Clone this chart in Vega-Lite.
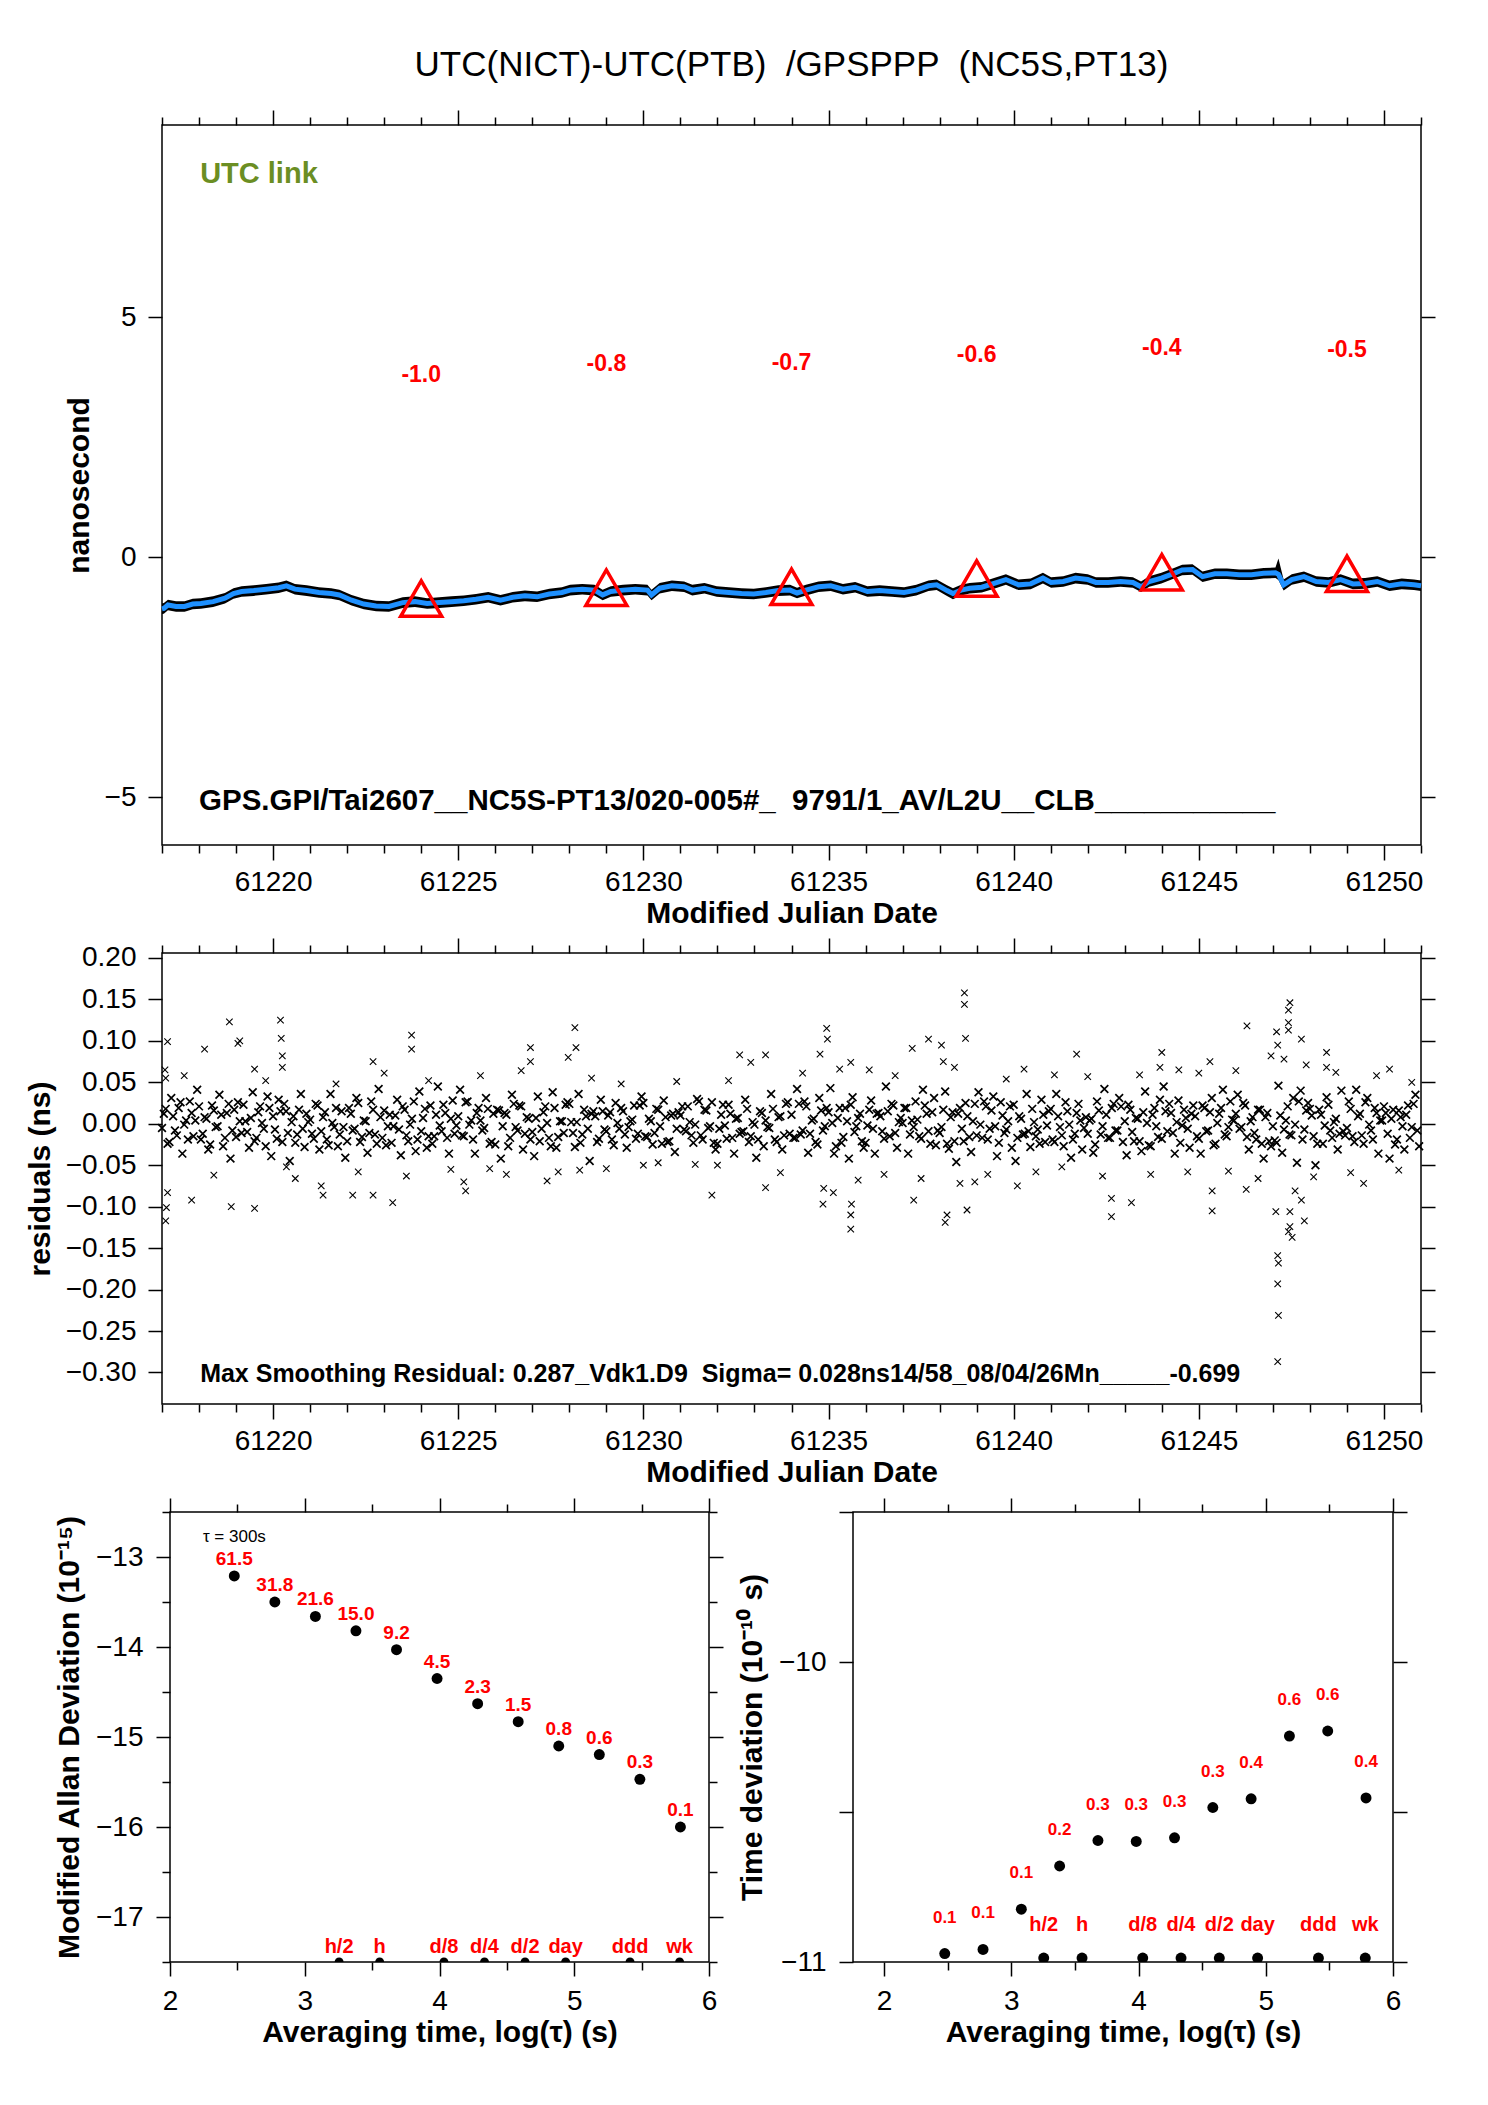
{
  "$schema": "https://vega.github.io/schema/vega-lite/v6.json",
  "autosize": {"type": "none"},
  "padding": {"left": 162, "top": 125, "right": 1326, "bottom": 1980},
  "background": "white",
  "bounds": "flush",
  "spacing": 108,
  "config": {
    "font": "Liberation Sans",
    "view": {"stroke": "black", "strokeWidth": 1.5},
    "axis": {
      "labelFont": "Liberation Sans", "labelFontSize": 28, "labelColor": "black",
      "titleFont": "Liberation Sans", "titleFontSize": 30, "titleFontWeight": "bold", "titleColor": "black",
      "domain": false, "grid": false, "tickColor": "black", "tickWidth": 1.5, "tickSize": 14,
      "labelFlush": false, "labelOverlap": false, "labelPadding": 11
    }
  },
  "datasets": {
    "ts": [
      {"t":61217.00,"y":-1.08,"lo":-1.19,"hi":-0.97},{"t":61217.05,"y":-1.07,"lo":-1.18,"hi":-0.96},{"t":61217.16,"y":-1.00,"lo":-1.11,"hi":-0.89},{"t":61217.38,"y":-1.03,"lo":-1.14,"hi":-0.92},
      {"t":61217.61,"y":-1.03,"lo":-1.14,"hi":-0.92},{"t":61217.83,"y":-0.98,"lo":-1.09,"hi":-0.87},{"t":61218.05,"y":-0.97,"lo":-1.08,"hi":-0.86},{"t":61218.38,"y":-0.93,"lo":-1.04,"hi":-0.82},
      {"t":61218.70,"y":-0.86,"lo":-0.97,"hi":-0.75},{"t":61218.93,"y":-0.76,"lo":-0.87,"hi":-0.65},{"t":61219.15,"y":-0.72,"lo":-0.83,"hi":-0.61},{"t":61219.48,"y":-0.70,"lo":-0.81,"hi":-0.59},
      {"t":61219.81,"y":-0.67,"lo":-0.78,"hi":-0.56},{"t":61220.15,"y":-0.64,"lo":-0.75,"hi":-0.53},{"t":61220.36,"y":-0.60,"lo":-0.71,"hi":-0.49},{"t":61220.59,"y":-0.67,"lo":-0.78,"hi":-0.56},
      {"t":61220.91,"y":-0.70,"lo":-0.81,"hi":-0.59},{"t":61221.24,"y":-0.74,"lo":-0.85,"hi":-0.63},{"t":61221.57,"y":-0.76,"lo":-0.87,"hi":-0.65},{"t":61221.79,"y":-0.79,"lo":-0.90,"hi":-0.68},
      {"t":61222.12,"y":-0.90,"lo":-1.01,"hi":-0.79},{"t":61222.45,"y":-0.98,"lo":-1.09,"hi":-0.87},{"t":61222.78,"y":-1.02,"lo":-1.13,"hi":-0.91},{"t":61223.13,"y":-1.03,"lo":-1.14,"hi":-0.92},
      {"t":61223.50,"y":-0.95,"lo":-1.06,"hi":-0.84},{"t":61223.83,"y":-0.93,"lo":-1.04,"hi":-0.82},{"t":61224.16,"y":-0.97,"lo":-1.08,"hi":-0.86},{"t":61224.49,"y":-0.95,"lo":-1.06,"hi":-0.84},
      {"t":61224.82,"y":-0.93,"lo":-1.04,"hi":-0.82},{"t":61225.15,"y":-0.91,"lo":-1.02,"hi":-0.80},{"t":61225.48,"y":-0.88,"lo":-0.99,"hi":-0.77},{"t":61225.81,"y":-0.84,"lo":-0.95,"hi":-0.73},
      {"t":61226.14,"y":-0.90,"lo":-1.01,"hi":-0.79},{"t":61226.47,"y":-0.84,"lo":-0.95,"hi":-0.73},{"t":61226.80,"y":-0.81,"lo":-0.92,"hi":-0.70},{"t":61227.13,"y":-0.83,"lo":-0.94,"hi":-0.72},
      {"t":61227.46,"y":-0.77,"lo":-0.88,"hi":-0.66},{"t":61227.80,"y":-0.74,"lo":-0.85,"hi":-0.63},{"t":61228.02,"y":-0.69,"lo":-0.80,"hi":-0.58},{"t":61228.35,"y":-0.67,"lo":-0.78,"hi":-0.56},
      {"t":61228.68,"y":-0.69,"lo":-0.80,"hi":-0.58},{"t":61228.90,"y":-0.79,"lo":-0.90,"hi":-0.68},{"t":61229.12,"y":-0.72,"lo":-0.83,"hi":-0.61},{"t":61229.45,"y":-0.69,"lo":-0.80,"hi":-0.58},
      {"t":61229.78,"y":-0.67,"lo":-0.78,"hi":-0.56},{"t":61230.11,"y":-0.69,"lo":-0.80,"hi":-0.58},{"t":61230.22,"y":-0.79,"lo":-0.90,"hi":-0.68},{"t":61230.44,"y":-0.65,"lo":-0.76,"hi":-0.54},
      {"t":61230.77,"y":-0.60,"lo":-0.71,"hi":-0.49},{"t":61231.10,"y":-0.62,"lo":-0.73,"hi":-0.51},{"t":61231.32,"y":-0.69,"lo":-0.80,"hi":-0.58},{"t":61231.65,"y":-0.65,"lo":-0.76,"hi":-0.54},
      {"t":61231.98,"y":-0.72,"lo":-0.83,"hi":-0.61},{"t":61232.31,"y":-0.74,"lo":-0.85,"hi":-0.63},{"t":61232.65,"y":-0.76,"lo":-0.87,"hi":-0.65},{"t":61232.98,"y":-0.77,"lo":-0.88,"hi":-0.66},
      {"t":61233.31,"y":-0.74,"lo":-0.85,"hi":-0.63},{"t":61233.64,"y":-0.70,"lo":-0.81,"hi":-0.59},{"t":61233.96,"y":-0.69,"lo":-0.80,"hi":-0.58},{"t":61234.15,"y":-0.75,"lo":-0.86,"hi":-0.64},
      {"t":61234.39,"y":-0.69,"lo":-0.80,"hi":-0.58},{"t":61234.73,"y":-0.62,"lo":-0.73,"hi":-0.51},{"t":61235.06,"y":-0.60,"lo":-0.71,"hi":-0.49},{"t":61235.39,"y":-0.67,"lo":-0.78,"hi":-0.56},
      {"t":61235.72,"y":-0.63,"lo":-0.74,"hi":-0.52},{"t":61236.05,"y":-0.72,"lo":-0.83,"hi":-0.61},{"t":61236.38,"y":-0.70,"lo":-0.81,"hi":-0.59},{"t":61236.71,"y":-0.72,"lo":-0.83,"hi":-0.61},
      {"t":61237.04,"y":-0.74,"lo":-0.85,"hi":-0.63},{"t":61237.37,"y":-0.69,"lo":-0.80,"hi":-0.58},{"t":61237.70,"y":-0.60,"lo":-0.71,"hi":-0.49},{"t":61237.92,"y":-0.58,"lo":-0.69,"hi":-0.47},
      {"t":61238.20,"y":-0.70,"lo":-0.81,"hi":-0.59},{"t":61238.36,"y":-0.76,"lo":-0.88,"hi":-0.65},{"t":61238.58,"y":-0.69,"lo":-0.80,"hi":-0.58},{"t":61238.81,"y":-0.65,"lo":-0.76,"hi":-0.54},
      {"t":61239.14,"y":-0.63,"lo":-0.74,"hi":-0.52},{"t":61239.47,"y":-0.55,"lo":-0.66,"hi":-0.44},{"t":61239.79,"y":-0.47,"lo":-0.58,"hi":-0.36},{"t":61240.13,"y":-0.58,"lo":-0.69,"hi":-0.47},
      {"t":61240.46,"y":-0.56,"lo":-0.67,"hi":-0.45},{"t":61240.79,"y":-0.44,"lo":-0.55,"hi":-0.33},{"t":61241.01,"y":-0.53,"lo":-0.64,"hi":-0.42},{"t":61241.34,"y":-0.51,"lo":-0.62,"hi":-0.40},
      {"t":61241.67,"y":-0.44,"lo":-0.55,"hi":-0.33},{"t":61242.00,"y":-0.47,"lo":-0.58,"hi":-0.36},{"t":61242.22,"y":-0.53,"lo":-0.64,"hi":-0.42},{"t":61242.55,"y":-0.53,"lo":-0.64,"hi":-0.42},
      {"t":61242.89,"y":-0.51,"lo":-0.62,"hi":-0.40},{"t":61243.22,"y":-0.53,"lo":-0.64,"hi":-0.42},{"t":61243.44,"y":-0.62,"lo":-0.73,"hi":-0.51},{"t":61243.66,"y":-0.51,"lo":-0.62,"hi":-0.40},
      {"t":61243.99,"y":-0.44,"lo":-0.55,"hi":-0.33},{"t":61244.33,"y":-0.34,"lo":-0.45,"hi":-0.23},{"t":61244.55,"y":-0.27,"lo":-0.38,"hi":-0.16},{"t":61244.83,"y":-0.26,"lo":-0.37,"hi":-0.15},
      {"t":61245.10,"y":-0.41,"lo":-0.52,"hi":-0.30},{"t":61245.43,"y":-0.35,"lo":-0.46,"hi":-0.24},{"t":61245.76,"y":-0.35,"lo":-0.46,"hi":-0.24},{"t":61246.09,"y":-0.37,"lo":-0.48,"hi":-0.26},
      {"t":61246.42,"y":-0.37,"lo":-0.48,"hi":-0.26},{"t":61246.75,"y":-0.34,"lo":-0.45,"hi":-0.23},{"t":61247.07,"y":-0.33,"lo":-0.44,"hi":-0.22},{"t":61247.15,"y":-0.36,"lo":-0.48,"hi":-0.03},
      {"t":61247.29,"y":-0.58,"lo":-0.70,"hi":-0.47},{"t":61247.51,"y":-0.47,"lo":-0.58,"hi":-0.36},{"t":61247.84,"y":-0.41,"lo":-0.52,"hi":-0.30},{"t":61248.17,"y":-0.51,"lo":-0.62,"hi":-0.40},
      {"t":61248.50,"y":-0.53,"lo":-0.64,"hi":-0.42},{"t":61248.83,"y":-0.47,"lo":-0.58,"hi":-0.36},{"t":61249.16,"y":-0.56,"lo":-0.67,"hi":-0.45},{"t":61249.49,"y":-0.55,"lo":-0.66,"hi":-0.44},
      {"t":61249.82,"y":-0.51,"lo":-0.62,"hi":-0.40},{"t":61250.15,"y":-0.60,"lo":-0.71,"hi":-0.49},{"t":61250.48,"y":-0.56,"lo":-0.67,"hi":-0.45},{"t":61250.81,"y":-0.58,"lo":-0.69,"hi":-0.47},
      {"t":61251.00,"y":-0.60,"lo":-0.71,"hi":-0.49}
    ],
    "tri": [
      {"t": 61224, "y": -0.865, "l": "-1.0"},
      {"t": 61229, "y": -0.64, "l": "-0.8"},
      {"t": 61234, "y": -0.62, "l": "-0.7"},
      {"t": 61239, "y": -0.45, "l": "-0.6"},
      {"t": 61244, "y": -0.32, "l": "-0.4"},
      {"t": 61249, "y": -0.35, "l": "-0.5"}
    ],
    "core": [
      {"t":61217.05,"r":0.012},{"t":61217.15,"r":-0.024},{"t":61217.25,"r":0.031},{"t":61217.35,"r":-0.008},{"t":61217.45,"r":0.019},{"t":61217.55,"r":-0.036},{"t":61217.65,"r":0.004},{"t":61217.75,"r":0.027},{"t":61217.85,"r":-0.015},{"t":61217.95,"r":0.041},
      {"t":61218.05,"r":-0.019},{"t":61218.15,"r":0.008},{"t":61218.25,"r":-0.031},{"t":61218.35,"r":0.022},{"t":61218.45,"r":-0.004},{"t":61218.55,"r":0.035},{"t":61218.65,"r":-0.027},{"t":61218.75,"r":0.013},{"t":61218.85,"r":-0.042},{"t":61218.95,"r":0.017},
      {"t":61219.05,"r":0.026},{"t":61219.15,"r":-0.011},{"t":61219.25,"r":0.003},{"t":61219.35,"r":-0.029},{"t":61219.45,"r":0.038},{"t":61219.55,"r":-0.017},{"t":61219.65,"r":0.021},{"t":61219.75,"r":-0.006},{"t":61219.85,"r":0.033},{"t":61219.95,"r":-0.039},
      {"t":61220.05,"r":-0.007},{"t":61220.15,"r":0.029},{"t":61220.25,"r":-0.022},{"t":61220.35,"r":0.015},{"t":61220.45,"r":-0.045},{"t":61220.55,"r":0.009},{"t":61220.65,"r":-0.013},{"t":61220.75,"r":0.036},{"t":61220.85,"r":-0.028},{"t":61220.95,"r":0.002},
      {"t":61221.05,"r":-0.012},{"t":61221.15,"r":0.024},{"t":61221.25,"r":-0.031},{"t":61221.35,"r":0.008},{"t":61221.45,"r":-0.019},{"t":61221.55,"r":0.036},{"t":61221.65,"r":-0.004},{"t":61221.75,"r":-0.027},{"t":61221.85,"r":0.015},{"t":61221.95,"r":-0.041},
      {"t":61222.05,"r":0.019},{"t":61222.15,"r":-0.008},{"t":61222.25,"r":0.031},{"t":61222.35,"r":-0.022},{"t":61222.45,"r":0.004},{"t":61222.55,"r":-0.035},{"t":61222.65,"r":0.027},{"t":61222.75,"r":-0.013},{"t":61222.85,"r":0.042},{"t":61222.95,"r":-0.017},
      {"t":61223.05,"r":-0.026},{"t":61223.15,"r":0.011},{"t":61223.25,"r":-0.003},{"t":61223.35,"r":0.029},{"t":61223.45,"r":-0.038},{"t":61223.55,"r":0.017},{"t":61223.65,"r":-0.021},{"t":61223.75,"r":0.006},{"t":61223.85,"r":-0.033},{"t":61223.95,"r":0.039},
      {"t":61224.05,"r":0.007},{"t":61224.15,"r":-0.029},{"t":61224.25,"r":0.022},{"t":61224.35,"r":-0.015},{"t":61224.45,"r":0.045},{"t":61224.55,"r":-0.009},{"t":61224.65,"r":0.013},{"t":61224.75,"r":-0.036},{"t":61224.85,"r":0.028},{"t":61224.95,"r":-0.002},
      {"t":61225.05,"r":0.041},{"t":61225.15,"r":-0.015},{"t":61225.25,"r":0.027},{"t":61225.35,"r":0.004},{"t":61225.45,"r":-0.036},{"t":61225.55,"r":0.019},{"t":61225.65,"r":-0.008},{"t":61225.75,"r":0.031},{"t":61225.85,"r":-0.024},{"t":61225.95,"r":0.012},
      {"t":61226.05,"r":0.017},{"t":61226.15,"r":-0.042},{"t":61226.25,"r":0.013},{"t":61226.35,"r":-0.027},{"t":61226.45,"r":0.035},{"t":61226.55,"r":-0.004},{"t":61226.65,"r":0.022},{"t":61226.75,"r":-0.031},{"t":61226.85,"r":0.008},{"t":61226.95,"r":-0.019},
      {"t":61227.05,"r":-0.039},{"t":61227.15,"r":0.033},{"t":61227.25,"r":-0.006},{"t":61227.35,"r":0.021},{"t":61227.45,"r":-0.017},{"t":61227.55,"r":0.038},{"t":61227.65,"r":-0.029},{"t":61227.75,"r":0.003},{"t":61227.85,"r":-0.011},{"t":61227.95,"r":0.026},
      {"t":61228.05,"r":0.002},{"t":61228.15,"r":-0.028},{"t":61228.25,"r":0.036},{"t":61228.35,"r":-0.013},{"t":61228.45,"r":0.009},{"t":61228.55,"r":-0.045},{"t":61228.65,"r":0.015},{"t":61228.75,"r":-0.022},{"t":61228.85,"r":0.029},{"t":61228.95,"r":-0.007},
      {"t":61229.05,"r":0.010},{"t":61229.15,"r":-0.019},{"t":61229.25,"r":0.025},{"t":61229.35,"r":-0.006},{"t":61229.45,"r":0.015},{"t":61229.55,"r":-0.029},{"t":61229.65,"r":0.003},{"t":61229.75,"r":0.022},{"t":61229.85,"r":-0.012},{"t":61229.95,"r":0.033},
      {"t":61230.05,"r":-0.015},{"t":61230.15,"r":0.006},{"t":61230.25,"r":-0.025},{"t":61230.35,"r":0.018},{"t":61230.45,"r":-0.003},{"t":61230.55,"r":0.028},{"t":61230.65,"r":-0.022},{"t":61230.75,"r":0.010},{"t":61230.85,"r":-0.034},{"t":61230.95,"r":0.014},
      {"t":61231.05,"r":0.021},{"t":61231.15,"r":-0.009},{"t":61231.25,"r":0.002},{"t":61231.35,"r":-0.023},{"t":61231.45,"r":0.030},{"t":61231.55,"r":-0.014},{"t":61231.65,"r":0.017},{"t":61231.75,"r":-0.005},{"t":61231.85,"r":0.026},{"t":61231.95,"r":-0.031},
      {"t":61232.05,"r":-0.006},{"t":61232.15,"r":0.023},{"t":61232.25,"r":-0.018},{"t":61232.35,"r":0.012},{"t":61232.45,"r":-0.036},{"t":61232.55,"r":0.007},{"t":61232.65,"r":-0.010},{"t":61232.75,"r":0.029},{"t":61232.85,"r":-0.022},{"t":61232.95,"r":0.002},
      {"t":61233.05,"r":-0.041},{"t":61233.15,"r":0.015},{"t":61233.25,"r":-0.027},{"t":61233.35,"r":-0.004},{"t":61233.45,"r":0.036},{"t":61233.55,"r":-0.019},{"t":61233.65,"r":0.008},{"t":61233.75,"r":-0.031},{"t":61233.85,"r":0.024},{"t":61233.95,"r":-0.012},
      {"t":61234.05,"r":-0.017},{"t":61234.15,"r":0.042},{"t":61234.25,"r":-0.013},{"t":61234.35,"r":0.027},{"t":61234.45,"r":-0.035},{"t":61234.55,"r":0.004},{"t":61234.65,"r":-0.022},{"t":61234.75,"r":0.031},{"t":61234.85,"r":-0.008},{"t":61234.95,"r":0.019},
      {"t":61235.05,"r":0.043},{"t":61235.15,"r":-0.036},{"t":61235.25,"r":0.007},{"t":61235.35,"r":-0.023},{"t":61235.45,"r":0.019},{"t":61235.55,"r":-0.042},{"t":61235.65,"r":0.032},{"t":61235.75,"r":-0.003},{"t":61235.85,"r":0.012},{"t":61235.95,"r":-0.029},
      {"t":61236.05,"r":-0.002},{"t":61236.15,"r":0.028},{"t":61236.25,"r":-0.036},{"t":61236.35,"r":0.013},{"t":61236.45,"r":-0.009},{"t":61236.55,"r":0.045},{"t":61236.65,"r":-0.015},{"t":61236.75,"r":0.022},{"t":61236.85,"r":-0.029},{"t":61236.95,"r":0.007},
      {"t":61237.05,"r":0.019},{"t":61237.15,"r":-0.036},{"t":61237.25,"r":0.004},{"t":61237.35,"r":0.027},{"t":61237.45,"r":-0.015},{"t":61237.55,"r":0.041},{"t":61237.65,"r":0.012},{"t":61237.75,"r":-0.024},{"t":61237.85,"r":0.031},{"t":61237.95,"r":-0.008},
      {"t":61238.05,"r":-0.004},{"t":61238.15,"r":0.039},{"t":61238.25,"r":-0.030},{"t":61238.35,"r":0.014},{"t":61238.45,"r":-0.046},{"t":61238.55,"r":0.019},{"t":61238.65,"r":-0.021},{"t":61238.75,"r":0.009},{"t":61238.85,"r":-0.034},{"t":61238.95,"r":0.024},
      {"t":61239.05,"r":0.038},{"t":61239.15,"r":-0.017},{"t":61239.25,"r":0.021},{"t":61239.35,"r":-0.006},{"t":61239.45,"r":0.033},{"t":61239.55,"r":-0.039},{"t":61239.65,"r":0.026},{"t":61239.75,"r":-0.011},{"t":61239.85,"r":0.003},{"t":61239.95,"r":-0.029},
      {"t":61240.05,"r":-0.045},{"t":61240.15,"r":0.009},{"t":61240.25,"r":-0.013},{"t":61240.35,"r":0.036},{"t":61240.45,"r":-0.028},{"t":61240.55,"r":0.002},{"t":61240.65,"r":-0.007},{"t":61240.75,"r":0.029},{"t":61240.85,"r":-0.022},{"t":61240.95,"r":0.015},
      {"t":61241.05,"r":-0.019},{"t":61241.15,"r":0.036},{"t":61241.25,"r":-0.004},{"t":61241.35,"r":-0.027},{"t":61241.45,"r":0.015},{"t":61241.55,"r":-0.041},{"t":61241.65,"r":-0.012},{"t":61241.75,"r":0.024},{"t":61241.85,"r":-0.031},{"t":61241.95,"r":0.008},
      {"t":61242.05,"r":0.004},{"t":61242.15,"r":-0.035},{"t":61242.25,"r":0.027},{"t":61242.35,"r":-0.013},{"t":61242.45,"r":0.042},{"t":61242.55,"r":-0.017},{"t":61242.65,"r":0.019},{"t":61242.75,"r":-0.008},{"t":61242.85,"r":0.031},{"t":61242.95,"r":-0.022},
      {"t":61243.05,"r":-0.038},{"t":61243.15,"r":0.017},{"t":61243.25,"r":-0.021},{"t":61243.35,"r":0.006},{"t":61243.45,"r":-0.033},{"t":61243.55,"r":0.039},{"t":61243.65,"r":-0.026},{"t":61243.75,"r":0.011},{"t":61243.85,"r":-0.003},{"t":61243.95,"r":0.029},
      {"t":61244.05,"r":0.045},{"t":61244.15,"r":-0.009},{"t":61244.25,"r":0.013},{"t":61244.35,"r":-0.036},{"t":61244.45,"r":0.028},{"t":61244.55,"r":-0.002},{"t":61244.65,"r":0.007},{"t":61244.75,"r":-0.029},{"t":61244.85,"r":0.022},{"t":61244.95,"r":-0.015},
      {"t":61245.05,"r":-0.036},{"t":61245.15,"r":0.019},{"t":61245.25,"r":-0.008},{"t":61245.35,"r":0.031},{"t":61245.45,"r":-0.024},{"t":61245.55,"r":0.012},{"t":61245.65,"r":0.041},{"t":61245.75,"r":-0.015},{"t":61245.85,"r":0.027},{"t":61245.95,"r":0.004},
      {"t":61246.05,"r":0.035},{"t":61246.15,"r":-0.004},{"t":61246.25,"r":0.022},{"t":61246.35,"r":-0.031},{"t":61246.45,"r":0.008},{"t":61246.55,"r":-0.019},{"t":61246.65,"r":0.017},{"t":61246.75,"r":-0.042},{"t":61246.85,"r":0.013},{"t":61246.95,"r":-0.027},
      {"t":61247.05,"r":-0.020},{"t":61247.15,"r":0.046},{"t":61247.25,"r":-0.035},{"t":61247.35,"r":0.004},{"t":61247.45,"r":-0.013},{"t":61247.55,"r":0.031},{"t":61247.65,"r":-0.047},{"t":61247.75,"r":0.040},{"t":61247.85,"r":-0.007},{"t":61247.95,"r":0.025},
      {"t":61248.05,"r":0.010},{"t":61248.15,"r":-0.050},{"t":61248.25,"r":0.017},{"t":61248.35,"r":-0.024},{"t":61248.45,"r":0.032},{"t":61248.55,"r":-0.008},{"t":61248.65,"r":0.002},{"t":61248.75,"r":-0.031},{"t":61248.85,"r":0.040},{"t":61248.95,"r":-0.014},
      {"t":61249.05,"r":0.027},{"t":61249.15,"r":-0.015},{"t":61249.25,"r":0.041},{"t":61249.35,"r":0.012},{"t":61249.45,"r":-0.024},{"t":61249.55,"r":0.031},{"t":61249.65,"r":-0.008},{"t":61249.75,"r":0.019},{"t":61249.85,"r":-0.036},{"t":61249.95,"r":0.004},
      {"t":61250.05,"r":0.013},{"t":61250.15,"r":-0.042},{"t":61250.25,"r":0.017},{"t":61250.35,"r":-0.019},{"t":61250.45,"r":0.008},{"t":61250.55,"r":-0.031},{"t":61250.65,"r":0.022},{"t":61250.75,"r":-0.004},{"t":61250.85,"r":0.035},{"t":61250.95,"r":-0.027},
      {"t":61217.00,"r":-0.005},{"t":61217.10,"r":0.018},{"t":61217.20,"r":-0.022},{"t":61217.30,"r":0.009},{"t":61217.40,"r":-0.014},{"t":61217.50,"r":0.026},{"t":61217.60,"r":-0.001},{"t":61217.70,"r":-0.019},{"t":61217.80,"r":0.013},{"t":61217.90,"r":0.004},
      {"t":61218.00,"r":0.021},{"t":61218.10,"r":-0.012},{"t":61218.20,"r":0.006},{"t":61218.30,"r":-0.025},{"t":61218.40,"r":0.016},{"t":61218.50,"r":-0.003},{"t":61218.60,"r":0.011},{"t":61218.70,"r":-0.017},{"t":61218.80,"r":0.024},{"t":61218.90,"r":-0.008},
      {"t":61219.00,"r":-0.016},{"t":61219.10,"r":0.003},{"t":61219.20,"r":0.023},{"t":61219.30,"r":-0.010},{"t":61219.40,"r":0.007},{"t":61219.50,"r":-0.021},{"t":61219.60,"r":0.014},{"t":61219.70,"r":0.001},{"t":61219.80,"r":-0.027},{"t":61219.90,"r":0.019},
      {"t":61220.00,"r":0.009},{"t":61220.10,"r":-0.018},{"t":61220.20,"r":0.015},{"t":61220.30,"r":0.024},{"t":61220.40,"r":-0.011},{"t":61220.50,"r":0.002},{"t":61220.60,"r":-0.023},{"t":61220.70,"r":0.017},{"t":61220.80,"r":-0.006},{"t":61220.90,"r":0.012},
      {"t":61221.00,"r":0.005},{"t":61221.10,"r":-0.018},{"t":61221.20,"r":0.022},{"t":61221.30,"r":-0.009},{"t":61221.40,"r":0.014},{"t":61221.50,"r":-0.026},{"t":61221.60,"r":0.001},{"t":61221.70,"r":0.019},{"t":61221.80,"r":-0.013},{"t":61221.90,"r":-0.004},
      {"t":61222.00,"r":-0.021},{"t":61222.10,"r":0.012},{"t":61222.20,"r":-0.006},{"t":61222.30,"r":0.025},{"t":61222.40,"r":-0.016},{"t":61222.50,"r":0.003},{"t":61222.60,"r":-0.011},{"t":61222.70,"r":0.017},{"t":61222.80,"r":-0.024},{"t":61222.90,"r":0.008},
      {"t":61223.00,"r":0.016},{"t":61223.10,"r":-0.003},{"t":61223.20,"r":-0.023},{"t":61223.30,"r":0.010},{"t":61223.40,"r":-0.007},{"t":61223.50,"r":0.021},{"t":61223.60,"r":-0.014},{"t":61223.70,"r":-0.001},{"t":61223.80,"r":0.027},{"t":61223.90,"r":-0.019},
      {"t":61224.00,"r":-0.009},{"t":61224.10,"r":0.018},{"t":61224.20,"r":-0.015},{"t":61224.30,"r":-0.024},{"t":61224.40,"r":0.011},{"t":61224.50,"r":-0.002},{"t":61224.60,"r":0.023},{"t":61224.70,"r":-0.017},{"t":61224.80,"r":0.006},{"t":61224.90,"r":-0.012},
      {"t":61225.00,"r":0.009},{"t":61225.10,"r":-0.014},{"t":61225.20,"r":0.026},{"t":61225.30,"r":-0.001},{"t":61225.40,"r":-0.019},{"t":61225.50,"r":0.013},{"t":61225.60,"r":0.004},{"t":61225.70,"r":-0.005},{"t":61225.80,"r":0.018},{"t":61225.90,"r":-0.022},
      {"t":61226.00,"r":-0.025},{"t":61226.10,"r":0.016},{"t":61226.20,"r":-0.003},{"t":61226.30,"r":0.011},{"t":61226.40,"r":-0.017},{"t":61226.50,"r":0.024},{"t":61226.60,"r":-0.008},{"t":61226.70,"r":0.021},{"t":61226.80,"r":-0.012},{"t":61226.90,"r":0.006},
      {"t":61227.00,"r":-0.010},{"t":61227.10,"r":0.007},{"t":61227.20,"r":-0.021},{"t":61227.30,"r":0.014},{"t":61227.40,"r":0.001},{"t":61227.50,"r":-0.027},{"t":61227.60,"r":0.019},{"t":61227.70,"r":-0.016},{"t":61227.80,"r":0.003},{"t":61227.90,"r":0.023},
      {"t":61228.00,"r":0.024},{"t":61228.10,"r":-0.011},{"t":61228.20,"r":0.002},{"t":61228.30,"r":-0.023},{"t":61228.40,"r":0.017},{"t":61228.50,"r":-0.006},{"t":61228.60,"r":0.012},{"t":61228.70,"r":0.009},{"t":61228.80,"r":-0.018},{"t":61228.90,"r":0.015},
      {"t":61229.00,"r":-0.009},{"t":61229.10,"r":0.014},{"t":61229.20,"r":-0.026},{"t":61229.30,"r":0.001},{"t":61229.40,"r":0.019},{"t":61229.50,"r":-0.013},{"t":61229.60,"r":-0.004},{"t":61229.70,"r":0.005},{"t":61229.80,"r":-0.018},{"t":61229.90,"r":0.022},
      {"t":61230.00,"r":0.025},{"t":61230.10,"r":-0.016},{"t":61230.20,"r":0.003},{"t":61230.30,"r":-0.011},{"t":61230.40,"r":0.017},{"t":61230.50,"r":-0.024},{"t":61230.60,"r":0.008},{"t":61230.70,"r":-0.021},{"t":61230.80,"r":0.012},{"t":61230.90,"r":-0.006},
      {"t":61231.00,"r":0.010},{"t":61231.10,"r":-0.007},{"t":61231.20,"r":0.021},{"t":61231.30,"r":-0.014},{"t":61231.40,"r":-0.001},{"t":61231.50,"r":0.027},{"t":61231.60,"r":-0.019},{"t":61231.70,"r":0.016},{"t":61231.80,"r":-0.003},{"t":61231.90,"r":-0.023},
      {"t":61232.00,"r":-0.024},{"t":61232.10,"r":0.011},{"t":61232.20,"r":-0.002},{"t":61232.30,"r":0.023},{"t":61232.40,"r":-0.017},{"t":61232.50,"r":0.006},{"t":61232.60,"r":-0.012},{"t":61232.70,"r":-0.009},{"t":61232.80,"r":0.018},{"t":61232.90,"r":-0.015},
      {"t":61233.00,"r":-0.001},{"t":61233.10,"r":-0.019},{"t":61233.20,"r":0.013},{"t":61233.30,"r":0.004},{"t":61233.40,"r":-0.005},{"t":61233.50,"r":0.018},{"t":61233.60,"r":-0.022},{"t":61233.70,"r":0.009},{"t":61233.80,"r":-0.014},{"t":61233.90,"r":0.026},
      {"t":61234.00,"r":0.011},{"t":61234.10,"r":-0.017},{"t":61234.20,"r":0.024},{"t":61234.30,"r":-0.008},{"t":61234.40,"r":0.021},{"t":61234.50,"r":-0.012},{"t":61234.60,"r":0.006},{"t":61234.70,"r":-0.025},{"t":61234.80,"r":0.016},{"t":61234.90,"r":-0.003},
      {"t":61235.00,"r":0.014},{"t":61235.10,"r":0.001},{"t":61235.20,"r":-0.027},{"t":61235.30,"r":0.019},{"t":61235.40,"r":-0.016},{"t":61235.50,"r":0.003},{"t":61235.60,"r":0.023},{"t":61235.70,"r":-0.010},{"t":61235.80,"r":0.007},{"t":61235.90,"r":-0.021},
      {"t":61236.00,"r":-0.023},{"t":61236.10,"r":0.017},{"t":61236.20,"r":-0.006},{"t":61236.30,"r":0.012},{"t":61236.40,"r":0.009},{"t":61236.50,"r":-0.018},{"t":61236.60,"r":0.015},{"t":61236.70,"r":0.024},{"t":61236.80,"r":-0.011},{"t":61236.90,"r":0.002},
      {"t":61237.00,"r":0.001},{"t":61237.10,"r":0.019},{"t":61237.20,"r":-0.013},{"t":61237.30,"r":-0.004},{"t":61237.40,"r":0.005},{"t":61237.50,"r":-0.018},{"t":61237.60,"r":0.022},{"t":61237.70,"r":-0.009},{"t":61237.80,"r":0.014},{"t":61237.90,"r":-0.026},
      {"t":61238.00,"r":-0.011},{"t":61238.10,"r":0.017},{"t":61238.20,"r":-0.024},{"t":61238.30,"r":0.008},{"t":61238.40,"r":-0.021},{"t":61238.50,"r":0.012},{"t":61238.60,"r":-0.006},{"t":61238.70,"r":0.025},{"t":61238.80,"r":-0.016},{"t":61238.90,"r":0.003},
      {"t":61239.00,"r":-0.014},{"t":61239.10,"r":-0.001},{"t":61239.20,"r":0.027},{"t":61239.30,"r":-0.019},{"t":61239.40,"r":0.016},{"t":61239.50,"r":-0.003},{"t":61239.60,"r":-0.023},{"t":61239.70,"r":0.010},{"t":61239.80,"r":-0.007},{"t":61239.90,"r":0.021},
      {"t":61240.00,"r":0.023},{"t":61240.10,"r":-0.017},{"t":61240.20,"r":0.006},{"t":61240.30,"r":-0.012},{"t":61240.40,"r":-0.009},{"t":61240.50,"r":0.018},{"t":61240.60,"r":-0.015},{"t":61240.70,"r":-0.024},{"t":61240.80,"r":0.011},{"t":61240.90,"r":-0.002},
      {"t":61241.00,"r":0.018},{"t":61241.10,"r":-0.022},{"t":61241.20,"r":0.009},{"t":61241.30,"r":-0.014},{"t":61241.40,"r":0.026},{"t":61241.50,"r":-0.001},{"t":61241.60,"r":-0.019},{"t":61241.70,"r":0.013},{"t":61241.80,"r":0.004},{"t":61241.90,"r":-0.005},
      {"t":61242.00,"r":-0.012},{"t":61242.10,"r":0.006},{"t":61242.20,"r":-0.025},{"t":61242.30,"r":0.016},{"t":61242.40,"r":-0.003},{"t":61242.50,"r":0.011},{"t":61242.60,"r":-0.017},{"t":61242.70,"r":0.024},{"t":61242.80,"r":-0.008},{"t":61242.90,"r":0.021},
      {"t":61243.00,"r":0.003},{"t":61243.10,"r":0.023},{"t":61243.20,"r":-0.010},{"t":61243.30,"r":0.007},{"t":61243.40,"r":-0.021},{"t":61243.50,"r":0.014},{"t":61243.60,"r":0.001},{"t":61243.70,"r":-0.027},{"t":61243.80,"r":0.019},{"t":61243.90,"r":-0.016},
      {"t":61244.00,"r":-0.018},{"t":61244.10,"r":0.015},{"t":61244.20,"r":0.024},{"t":61244.30,"r":-0.011},{"t":61244.40,"r":0.002},{"t":61244.50,"r":-0.023},{"t":61244.60,"r":0.017},{"t":61244.70,"r":-0.006},{"t":61244.80,"r":0.012},{"t":61244.90,"r":0.009},
      {"t":61245.00,"r":-0.018},{"t":61245.10,"r":0.022},{"t":61245.20,"r":-0.009},{"t":61245.30,"r":0.014},{"t":61245.40,"r":-0.026},{"t":61245.50,"r":0.001},{"t":61245.60,"r":0.019},{"t":61245.70,"r":-0.013},{"t":61245.80,"r":-0.004},{"t":61245.90,"r":0.005},
      {"t":61246.00,"r":0.012},{"t":61246.10,"r":-0.006},{"t":61246.20,"r":0.025},{"t":61246.30,"r":-0.016},{"t":61246.40,"r":0.003},{"t":61246.50,"r":-0.011},{"t":61246.60,"r":0.017},{"t":61246.70,"r":-0.024},{"t":61246.80,"r":0.008},{"t":61246.90,"r":-0.021},
      {"t":61247.00,"r":-0.003},{"t":61247.10,"r":-0.023},{"t":61247.20,"r":0.010},{"t":61247.30,"r":-0.007},{"t":61247.40,"r":0.021},{"t":61247.50,"r":-0.014},{"t":61247.60,"r":-0.001},{"t":61247.70,"r":0.027},{"t":61247.80,"r":-0.019},{"t":61247.90,"r":0.016},
      {"t":61248.00,"r":0.018},{"t":61248.10,"r":-0.015},{"t":61248.20,"r":-0.024},{"t":61248.30,"r":0.011},{"t":61248.40,"r":-0.002},{"t":61248.50,"r":0.023},{"t":61248.60,"r":-0.017},{"t":61248.70,"r":0.006},{"t":61248.80,"r":-0.012},{"t":61248.90,"r":-0.009},
      {"t":61249.00,"r":-0.005},{"t":61249.10,"r":0.018},{"t":61249.20,"r":-0.022},{"t":61249.30,"r":0.009},{"t":61249.40,"r":-0.014},{"t":61249.50,"r":0.026},{"t":61249.60,"r":-0.001},{"t":61249.70,"r":-0.019},{"t":61249.80,"r":0.013},{"t":61249.90,"r":0.004},
      {"t":61250.00,"r":0.021},{"t":61250.10,"r":-0.012},{"t":61250.20,"r":0.006},{"t":61250.30,"r":-0.025},{"t":61250.40,"r":0.016},{"t":61250.50,"r":-0.003},{"t":61250.60,"r":0.011},{"t":61250.70,"r":-0.017},{"t":61250.80,"r":0.024},{"t":61250.90,"r":-0.008}
    ],
    "outl": [
      {"t":61217.15,"r":0.099},{"t":61217.10,"r":-0.117},{"t":61217.12,"r":-0.101},{"t":61217.15,"r":-0.083},{"t":61217.08,"r":0.065},{"t":61217.10,"r":0.055},
      {"t":61218.82,"r":0.123},{"t":61218.87,"r":-0.100},{"t":61218.15,"r":0.090},{"t":61217.80,"r":-0.092},{"t":61219.10,"r":0.100},{"t":61219.05,"r":0.097},{"t":61219.50,"r":-0.102},{"t":61219.50,"r":0.066},
      {"t":61220.20,"r":0.125},{"t":61220.22,"r":0.103},{"t":61220.25,"r":0.082},{"t":61220.25,"r":0.068},{"t":61220.36,"r":-0.052},
      {"t":61221.30,"r":-0.075},{"t":61221.35,"r":-0.086},{"t":61222.15,"r":-0.086},{"t":61222.70,"r":-0.086},{"t":61222.70,"r":0.075},{"t":61223.23,"r":-0.095},{"t":61223.74,"r":0.107},{"t":61223.74,"r":0.090},
      {"t":61225.20,"r":-0.081},{"t":61225.15,"r":-0.070},{"t":61225.85,"r":-0.054},{"t":61226.95,"r":0.092},{"t":61226.95,"r":0.075},{"t":61227.40,"r":-0.069},{"t":61227.97,"r":0.080},{"t":61228.15,"r":0.116},{"t":61228.18,"r":0.092},{"t":61228.28,"r":-0.056},{"t":61229.00,"r":-0.054},{"t":61230.00,"r":-0.050},
      {"t":61231.85,"r":-0.086},{"t":61232.00,"r":-0.050},{"t":61232.60,"r":0.083},{"t":61232.90,"r":0.074},{"t":61233.30,"r":0.083},{"t":61233.30,"r":-0.077},
      {"t":61234.77,"r":0.084},{"t":61234.87,"r":-0.078},{"t":61234.95,"r":0.115},{"t":61234.97,"r":0.102},{"t":61234.85,"r":-0.097},{"t":61235.13,"r":-0.083},{"t":61235.60,"r":-0.127},{"t":61235.60,"r":-0.110},{"t":61235.60,"r":0.074},{"t":61235.62,"r":-0.097},{"t":61236.10,"r":0.065},
      {"t":61237.26,"r":0.091},{"t":61237.30,"r":-0.092},{"t":61237.70,"r":0.102},{"t":61238.05,"r":0.095},{"t":61238.15,"r":-0.119},{"t":61238.20,"r":-0.110},{"t":61238.10,"r":0.075},{"t":61238.67,"r":0.158},{"t":61238.67,"r":0.144},{"t":61238.70,"r":0.103},{"t":61238.74,"r":-0.104},{"t":61238.95,"r":-0.070},
      {"t":61240.10,"r":-0.075},{"t":61240.28,"r":0.066},{"t":61241.10,"r":0.059},{"t":61241.70,"r":0.084},{"t":61242.64,"r":-0.112},{"t":61242.64,"r":-0.090},{"t":61243.18,"r":-0.095},{"t":61244.00,"r":0.086},{"t":61243.95,"r":0.068},{"t":61244.46,"r":0.065},
      {"t":61245.36,"r":-0.105},{"t":61245.36,"r":-0.081},{"t":61245.30,"r":0.075},{"t":61246.30,"r":0.118},{"t":61246.28,"r":-0.079},
      {"t":61247.13,"r":-0.287},{"t":61247.15,"r":-0.231},{"t":61247.13,"r":-0.193},{"t":61247.15,"r":-0.168},{"t":61247.13,"r":-0.159},{"t":61247.10,"r":0.111},{"t":61247.08,"r":-0.106},{"t":61247.13,"r":0.095},{"t":61246.95,"r":0.082},
      {"t":61247.46,"r":0.146},{"t":61247.42,"r":0.137},{"t":61247.42,"r":0.122},{"t":61247.42,"r":0.113},{"t":61247.52,"r":-0.137},{"t":61247.42,"r":-0.130},{"t":61247.46,"r":-0.124},{"t":61247.46,"r":-0.106},
      {"t":61247.77,"r":0.102},{"t":61247.85,"r":-0.117},{"t":61247.77,"r":-0.092},{"t":61248.45,"r":0.086},{"t":61248.45,"r":0.068},{"t":61249.45,"r":-0.072},{"t":61250.15,"r":0.066},{"t":61250.75,"r":0.050},
      {"t":61217.60,"r":0.058},{"t":61218.40,"r":-0.062},{"t":61219.80,"r":0.052},{"t":61220.60,"r":-0.066},{"t":61221.70,"r":0.048},{"t":61222.30,"r":-0.058},{"t":61223.00,"r":0.061},{"t":61223.60,"r":-0.063},{"t":61224.20,"r":0.052},{"t":61224.80,"r":-0.055},
      {"t":61225.60,"r":0.058},{"t":61226.30,"r":-0.061},{"t":61226.70,"r":0.064},{"t":61227.70,"r":-0.058},{"t":61228.60,"r":0.055},{"t":61229.40,"r":0.048},{"t":61230.40,"r":-0.047},{"t":61230.90,"r":0.051},{"t":61231.40,"r":-0.049},{"t":61232.30,"r":0.052},
      {"t":61233.70,"r":-0.059},{"t":61234.30,"r":0.061},{"t":61235.30,"r":0.066},{"t":61235.80,"r":-0.068},{"t":61236.50,"r":-0.061},{"t":61236.80,"r":0.058},{"t":61237.50,"r":-0.066},{"t":61238.40,"r":0.068},{"t":61238.55,"r":-0.072},{"t":61239.30,"r":-0.061},
      {"t":61239.80,"r":0.054},{"t":61240.60,"r":-0.058},{"t":61241.30,"r":-0.052},{"t":61242.00,"r":0.057},{"t":61242.40,"r":-0.063},{"t":61243.40,"r":0.059},{"t":61243.70,"r":-0.061},{"t":61244.70,"r":-0.058},{"t":61245.00,"r":0.061},{"t":61245.80,"r":-0.057},
      {"t":61246.00,"r":0.064},{"t":61246.60,"r":-0.066},{"t":61247.30,"r":0.078},{"t":61247.60,"r":-0.081},{"t":61247.90,"r":0.071},{"t":61248.10,"r":-0.064},{"t":61248.70,"r":0.062},{"t":61249.10,"r":-0.059},{"t":61249.80,"r":0.058},{"t":61250.40,"r":-0.056}
    ],
    "adev": [
      {"x": 2.477, "y": -13.21, "l": "61.5"},
      {"x": 2.778, "y": -13.50, "l": "31.8"},
      {"x": 3.079, "y": -13.66, "l": "21.6"},
      {"x": 3.380, "y": -13.82, "l": "15.0"},
      {"x": 3.681, "y": -14.03, "l": "9.2"},
      {"x": 3.982, "y": -14.35, "l": "4.5"},
      {"x": 4.283, "y": -14.63, "l": "2.3"},
      {"x": 4.584, "y": -14.83, "l": "1.5"},
      {"x": 4.885, "y": -15.10, "l": "0.8"},
      {"x": 5.186, "y": -15.195, "l": "0.6"},
      {"x": 5.487, "y": -15.47, "l": "0.3"},
      {"x": 5.788, "y": -16.00, "l": "0.1"}
    ],
    "tdev": [
      {"x": 2.477, "y": -10.972, "l": "0.1"},
      {"x": 2.778, "y": -10.958, "l": "0.1"},
      {"x": 3.079, "y": -10.824, "l": "0.1"},
      {"x": 3.380, "y": -10.680, "l": "0.2"},
      {"x": 3.681, "y": -10.595, "l": "0.3"},
      {"x": 3.982, "y": -10.598, "l": "0.3"},
      {"x": 4.283, "y": -10.586, "l": "0.3"},
      {"x": 4.584, "y": -10.485, "l": "0.3"},
      {"x": 4.885, "y": -10.456, "l": "0.4"},
      {"x": 5.186, "y": -10.247, "l": "0.6"},
      {"x": 5.487, "y": -10.230, "l": "0.6"},
      {"x": 5.788, "y": -10.453, "l": "0.4"}
    ],
    "spans": [
      {"x": 3.255, "l": "h/2"},
      {"x": 3.556, "l": "h"},
      {"x": 4.033, "l": "d/8"},
      {"x": 4.334, "l": "d/4"},
      {"x": 4.635, "l": "d/2"},
      {"x": 4.936, "l": "day"},
      {"x": 5.414, "l": "ddd"},
      {"x": 5.782, "l": "wk"}
    ]
  },
  "vconcat": [
    {
      "width": 1259,
      "height": 720,
      "title": {"text": "UTC(NICT)-UTC(PTB) \u00a0/GPSPPP \u00a0(NC5S,PT13)", "font": "Liberation Sans", "fontSize": 35, "fontWeight": "normal", "color": "black", "anchor": "middle", "baseline": "alphabetic", "offset": -2},
      "layer": [
        {
          "data": {"name": "ts"},
          "mark": {"type": "area", "color": "black"},
          "encoding": {
            "x": {"field": "t", "type": "quantitative", "scale": {"domain": [61217, 61251], "nice": false, "zero": false},
              "axis": {"orient": "bottom", "format": "d", "title": "Modified Julian Date", "titlePadding": 2, "labelPadding": 8,
                "values": [61217,61218,61219,61220,61221,61222,61223,61224,61225,61226,61227,61228,61229,61230,61231,61232,61233,61234,61235,61236,61237,61238,61239,61240,61241,61242,61243,61244,61245,61246,61247,61248,61249,61250,61251],
                "labelExpr": "datum.value % 5 === 0 ? datum.label : ''",
                "tickSize": {"condition": {"test": "datum.value % 5 === 0", "value": 15}, "value": 8}}},
            "y": {"field": "lo", "type": "quantitative", "scale": {"domain": [-6, 9], "nice": false, "zero": false},
              "axis": {"orient": "left", "format": "d", "values": [-5, 0, 5], "title": "nanosecond", "titlePadding": 10, "labelPadding": 12}},
            "y2": {"field": "hi"}
          }
        },
        {
          "data": {"name": "ts"},
          "mark": {"type": "line", "color": "#1e90ff", "strokeWidth": 5},
          "encoding": {
            "x": {"field": "t", "type": "quantitative", "scale": {"domain": [61217, 61251], "nice": false, "zero": false},
              "axis": {"orient": "top", "labels": false, "title": null,
                "values": [61217,61218,61219,61220,61221,61222,61223,61224,61225,61226,61227,61228,61229,61230,61231,61232,61233,61234,61235,61236,61237,61238,61239,61240,61241,61242,61243,61244,61245,61246,61247,61248,61249,61250,61251],
                "tickSize": {"condition": {"test": "datum.value % 5 === 0", "value": 15}, "value": 8}}},
            "y": {"field": "y", "type": "quantitative", "scale": {"domain": [-6, 9], "nice": false, "zero": false},
              "axis": {"orient": "right", "labels": false, "title": null, "values": [-5, 0, 5]}}
          }
        },
        {
          "data": {"name": "tri"},
          "mark": {"type": "point", "shape": "triangle-up", "filled": false, "stroke": "#ff0000", "strokeWidth": 3.5, "size": 1681, "opacity": 1},
          "encoding": {
            "x": {"field": "t", "type": "quantitative", "axis": null},
            "y": {"field": "y", "type": "quantitative", "axis": null}
          }
        },
        {
          "data": {"name": "tri"},
          "mark": {"type": "text", "font": "Liberation Sans", "fontWeight": "bold", "fontSize": 23, "color": "#ff0000", "align": "center", "baseline": "middle", "dy": -224},
          "encoding": {
            "x": {"field": "t", "type": "quantitative", "axis": null},
            "y": {"field": "y", "type": "quantitative", "axis": null},
            "text": {"field": "l"}
          }
        },
        {
          "data": {"values": [{}]},
          "mark": {"type": "text", "font": "Liberation Sans", "fontWeight": "bold", "fontSize": 29, "color": "#6b8e23", "align": "left", "baseline": "alphabetic"},
          "encoding": {
            "x": {"datum": 61218.03, "type": "quantitative", "axis": null},
            "y": {"datum": 7.79, "type": "quantitative", "axis": null},
            "text": {"value": "UTC link"}
          }
        },
        {
          "data": {"values": [{}]},
          "mark": {"type": "text", "font": "Liberation Sans", "fontWeight": "bold", "fontSize": 29.5, "color": "black", "align": "left", "baseline": "alphabetic"},
          "encoding": {
            "x": {"datum": 61218.0, "type": "quantitative", "axis": null},
            "y": {"datum": -5.27, "type": "quantitative", "axis": null},
            "text": {"value": "GPS.GPI/Tai2607__NC5S-PT13/020-005#_ \u00a09791/1_AV/L2U__CLB___________"}
          }
        }
      ],
      "resolve": {"axis": {"x": "independent", "y": "independent"}}
    },
    {
      "width": 1259,
      "height": 451,
      "layer": [
        {
          "data": {"name": "core"},
          "mark": {"type": "point", "shape": "M-1,-1L1,1M-1,1L1,-1", "filled": false, "stroke": "black", "strokeWidth": 1.7, "size": 60, "opacity": 1},
          "encoding": {
            "x": {"field": "t", "type": "quantitative", "scale": {"domain": [61217, 61251], "nice": false, "zero": false},
              "axis": {"orient": "bottom", "format": "d", "title": "Modified Julian Date", "titlePadding": 2, "labelPadding": 8,
                "values": [61217,61218,61219,61220,61221,61222,61223,61224,61225,61226,61227,61228,61229,61230,61231,61232,61233,61234,61235,61236,61237,61238,61239,61240,61241,61242,61243,61244,61245,61246,61247,61248,61249,61250,61251],
                "labelExpr": "datum.value % 5 === 0 ? datum.label : ''",
                "tickSize": {"condition": {"test": "datum.value % 5 === 0", "value": 15}, "value": 8}}},
            "y": {"field": "r", "type": "quantitative", "scale": {"domain": [-0.338, 0.206], "nice": false, "zero": false},
              "axis": {"orient": "left", "format": ".2f", "values": [-0.3, -0.25, -0.2, -0.15, -0.1, -0.05, 0, 0.05, 0.1, 0.15, 0.2], "title": "residuals (ns)", "titlePadding": 10, "labelPadding": 12}}
          }
        },
        {
          "data": {"name": "outl"},
          "mark": {"type": "point", "shape": "M-1,-1L1,1M-1,1L1,-1", "filled": false, "stroke": "black", "strokeWidth": 1.1, "size": 42, "opacity": 1},
          "encoding": {
            "x": {"field": "t", "type": "quantitative", "axis": null},
            "y": {"field": "r", "type": "quantitative", "axis": null}
          }
        },
        {
          "data": {"values": [{}]},
          "mark": {"type": "text", "font": "Liberation Sans", "fontWeight": "bold", "fontSize": 25, "color": "black", "align": "left", "baseline": "alphabetic"},
          "encoding": {
            "x": {"datum": 61218.03, "type": "quantitative",
              "axis": {"orient": "top", "labels": false, "title": null,
                "values": [61217,61218,61219,61220,61221,61222,61223,61224,61225,61226,61227,61228,61229,61230,61231,61232,61233,61234,61235,61236,61237,61238,61239,61240,61241,61242,61243,61244,61245,61246,61247,61248,61249,61250,61251],
                "tickSize": {"condition": {"test": "datum.value % 5 === 0", "value": 15}, "value": 8}}},
            "y": {"datum": -0.312, "type": "quantitative",
              "axis": {"orient": "right", "labels": false, "title": null, "values": [-0.3, -0.25, -0.2, -0.15, -0.1, -0.05, 0, 0.05, 0.1, 0.15, 0.2]}},
            "text": {"value": "Max Smoothing Residual: 0.287_Vdk1.D9 \u00a0Sigma= 0.028ns14/58_08/04/26Mn_____-0.699"}
          }
        }
      ],
      "resolve": {"axis": {"x": "independent", "y": "independent"}}
    },
    {
      "bounds": "flush",
      "spacing": 0,
      "hconcat": [
        {
          "width": 8,
          "height": 450,
          "data": {"values": []},
          "mark": "point",
          "view": {"stroke": null}
        },
        {
          "bounds": "flush",
          "spacing": 144,
          "hconcat": [
            {
              "width": 539,
              "height": 450,
              "layer": [
                {
                  "data": {"name": "adev"},
                  "mark": {"type": "point", "shape": "circle", "filled": true, "color": "black", "size": 120, "opacity": 1},
                  "encoding": {
                    "x": {"field": "x", "type": "quantitative", "scale": {"domain": [2, 6], "nice": false, "zero": false},
                      "axis": {"orient": "bottom", "format": "d", "values": [2, 3, 4, 5, 6], "title": "Averaging time, log(τ) (s)", "titlePadding": 2}},
                    "y": {"field": "y", "type": "quantitative", "scale": {"domain": [-17.5, -12.5], "nice": false, "zero": false},
                      "axis": {"orient": "left", "format": "d", "values": [-17, -16, -15, -14, -13], "title": "Modified Allan Deviation (10⁻¹⁵)", "titlePadding": 11, "labelPadding": 13}}
                  }
                },
                {
                  "data": {"name": "adev"},
                  "mark": {"type": "text", "font": "Liberation Sans", "fontWeight": "bold", "fontSize": 19, "color": "#ff0000", "align": "center", "baseline": "middle", "dy": -17},
                  "encoding": {
                    "x": {"field": "x", "type": "quantitative",
                      "axis": {"orient": "top", "labels": false, "title": null, "values": [2, 3, 4, 5, 6]}},
                    "y": {"field": "y", "type": "quantitative",
                      "axis": {"orient": "right", "labels": false, "title": null, "values": [-17, -16, -15, -14, -13]}},
                    "text": {"field": "l"}
                  }
                },
                {
                  "data": {"name": "spans"},
                  "mark": {"type": "point", "shape": "circle", "filled": true, "color": "black", "size": 80, "opacity": 1, "clip": true},
                  "encoding": {
                    "x": {"field": "x", "type": "quantitative",
                      "axis": {"orient": "bottom", "labels": false, "title": null, "tickSize": 8, "values": [2.5, 3.5, 4.5, 5.5]}},
                    "y": {"datum": -17.5, "type": "quantitative",
                      "axis": {"orient": "left", "labels": false, "title": null, "tickSize": 8, "values": [-17.5, -16.5, -15.5, -14.5, -13.5, -12.5]}}
                  }
                },
                {
                  "data": {"name": "spans"},
                  "mark": {"type": "text", "font": "Liberation Sans", "fontWeight": "bold", "fontSize": 20, "color": "#ff0000", "align": "center", "baseline": "middle", "dy": -15},
                  "encoding": {
                    "x": {"field": "x", "type": "quantitative",
                      "axis": {"orient": "top", "labels": false, "title": null, "tickSize": 8, "values": [2.5, 3.5, 4.5, 5.5]}},
                    "y": {"datum": -17.5, "type": "quantitative",
                      "axis": {"orient": "right", "labels": false, "title": null, "tickSize": 8, "values": [-17.5, -16.5, -15.5, -14.5, -13.5, -12.5]}},
                    "text": {"field": "l"}
                  }
                },
                {
                  "data": {"values": [{}]},
                  "mark": {"type": "text", "font": "Liberation Sans", "fontSize": 17, "color": "black", "align": "left", "baseline": "alphabetic"},
                  "encoding": {
                    "x": {"datum": 2.244, "type": "quantitative", "axis": null},
                    "y": {"datum": -12.833, "type": "quantitative", "axis": null},
                    "text": {"value": "τ = 300s"}
                  }
                }
              ],
              "resolve": {"axis": {"x": "independent", "y": "independent"}}
            },
            {
              "width": 540,
              "height": 450,
              "layer": [
                {
                  "data": {"name": "tdev"},
                  "mark": {"type": "point", "shape": "circle", "filled": true, "color": "black", "size": 120, "opacity": 1},
                  "encoding": {
                    "x": {"field": "x", "type": "quantitative", "scale": {"domain": [1.756, 6], "nice": false, "zero": false},
                      "axis": {"orient": "bottom", "format": "d", "values": [2, 3, 4, 5, 6], "title": "Averaging time, log(τ) (s)", "titlePadding": 2}},
                    "y": {"field": "y", "type": "quantitative", "scale": {"domain": [-11, -9.5], "nice": false, "zero": false},
                      "axis": {"orient": "left", "format": "d", "values": [-11, -10], "title": "Time deviation (10⁻¹⁰ s)", "titlePadding": 11, "labelPadding": 13}}
                  }
                },
                {
                  "data": {"name": "tdev"},
                  "mark": {"type": "text", "font": "Liberation Sans", "fontWeight": "bold", "fontSize": 17, "color": "#ff0000", "align": "center", "baseline": "middle", "dy": -36},
                  "encoding": {
                    "x": {"field": "x", "type": "quantitative",
                      "axis": {"orient": "top", "labels": false, "title": null, "values": [2, 3, 4, 5, 6]}},
                    "y": {"field": "y", "type": "quantitative",
                      "axis": {"orient": "right", "labels": false, "title": null, "values": [-11, -10]}},
                    "text": {"field": "l"}
                  }
                },
                {
                  "data": {"name": "spans"},
                  "mark": {"type": "point", "shape": "circle", "filled": true, "color": "black", "size": 120, "opacity": 1, "clip": true},
                  "encoding": {
                    "x": {"field": "x", "type": "quantitative",
                      "axis": {"orient": "bottom", "labels": false, "title": null, "tickSize": 8, "values": [2.5, 3.5, 4.5, 5.5]}},
                    "y": {"datum": -10.987, "type": "quantitative",
                      "axis": {"orient": "left", "labels": false, "title": null, "tickSize": 14, "values": [-10.5, -9.5]}}
                  }
                },
                {
                  "data": {"name": "spans"},
                  "mark": {"type": "text", "font": "Liberation Sans", "fontWeight": "bold", "fontSize": 20, "color": "#ff0000", "align": "center", "baseline": "middle", "dy": -33},
                  "encoding": {
                    "x": {"field": "x", "type": "quantitative",
                      "axis": {"orient": "top", "labels": false, "title": null, "tickSize": 8, "values": [2.5, 3.5, 4.5, 5.5]}},
                    "y": {"datum": -10.987, "type": "quantitative",
                      "axis": {"orient": "right", "labels": false, "title": null, "tickSize": 14, "values": [-10.5, -9.5]}},
                    "text": {"field": "l"}
                  }
                }
              ],
              "resolve": {"axis": {"x": "independent", "y": "independent"}}
            }
          ]
        }
      ]
    }
  ]
}
